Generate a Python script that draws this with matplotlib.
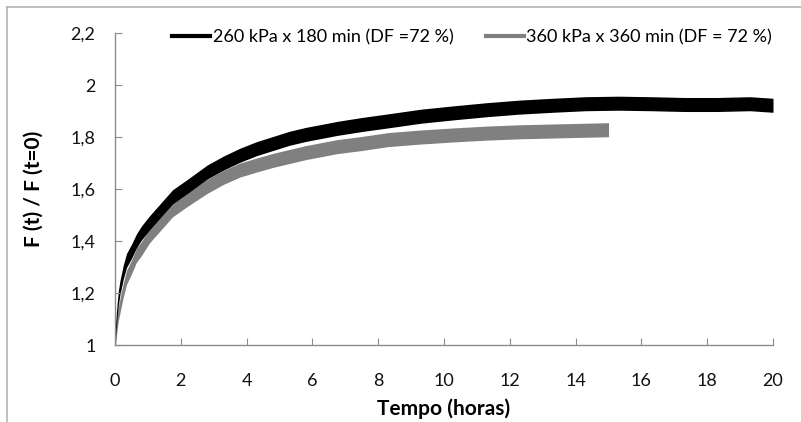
from matplotlib import pyplot as plt
from matplotlib.lines import Line2D
import numpy as np

plt.rcParams['font.family'] = ['Lato', 'DejaVu Sans']

# 260 kPa x 180 min (DF = 72 %)
t_260 = [0, 0.02, 0.05, 0.1, 0.15, 0.25, 0.35, 0.5, 0.65, 0.8, 1.05, 1.4, 1.75, 2.2,
         2.8, 3.3, 3.8, 4.3, 4.8, 5.3, 5.8, 6.3, 6.75, 7.5, 8.3, 9.3, 10.3, 11.3, 12.3,
         13.3, 14.3, 15.3, 16.3, 17.3, 18.3, 19.3, 20]
f_260 = [1.0, 1.06, 1.11, 1.18, 1.22, 1.28, 1.325, 1.36, 1.40, 1.43, 1.47, 1.52, 1.57,
         1.61, 1.665, 1.70, 1.73, 1.755, 1.775, 1.795, 1.81, 1.822, 1.833, 1.848, 1.862,
         1.880, 1.893, 1.905, 1.915, 1.922, 1.928, 1.93, 1.928, 1.925, 1.925, 1.928, 1.922]

# 360 kPa x 360 min (DF = 72 %)
t_360 = [0, 0.02, 0.05, 0.1, 0.15, 0.25, 0.35, 0.5, 0.65, 0.8, 1.05, 1.4, 1.75, 2.2,
         2.8, 3.3, 3.8, 4.3, 4.8, 5.3, 5.8, 6.3, 6.75, 7.5, 8.3, 9.3, 10.3, 11.3, 12.3,
         13.3, 14.3, 15]
f_360 = [1.0, 1.03, 1.07, 1.12, 1.15, 1.21, 1.26, 1.30, 1.345, 1.37, 1.42, 1.47, 1.52,
         1.56, 1.61, 1.645, 1.673, 1.692, 1.71, 1.725, 1.74, 1.752, 1.763, 1.775, 1.79,
         1.80, 1.808, 1.815, 1.82, 1.823, 1.826, 1.828]

labels = ["260 kPa x 180 min (DF =72 %)", "360 kPa x 360 min (DF = 72 %)"]
colors = ["black", "#808080"]

x_ticks = np.arange(0, 21, 2)
y_ticks = [1, 1.2, 1.4, 1.6, 1.8, 2, 2.2]
y_ticklabels = ["1", "1,2", "1,4", "1,6", "1,8", "2", "2,2"]

band = 0.027  # half thickness of the noisy trace

fig = plt.figure(figsize=(8.01, 4.22), dpi=100)
ax = fig.add_axes([115 / 801, 1 - 345 / 422, 658 / 801, 312 / 422])

for t, f, c in [(t_360, f_360, colors[1]), (t_260, f_260, colors[0])]:
    t = np.array(t)
    f = np.array(f)
    ax.fill_between(t, f - band, f + band, color=c, linewidth=0)

ax.set_xlim(0, 20)
ax.set_ylim(1, 2.2)
ax.set_xticks(x_ticks)
ax.set_yticks(y_ticks)
ax.set_yticklabels(y_ticklabels)

for s in ["top", "right"]:
    ax.spines[s].set_visible(False)
for s in ["left", "bottom"]:
    ax.spines[s].set_color("#8c8c8c")
    ax.spines[s].set_linewidth(1)

ax.tick_params(axis="x", direction="in", length=5, color="#8c8c8c", pad=20,
               labelsize=13, labelcolor="#111111")
ax.tick_params(axis="y", direction="in", length=5, color="#8c8c8c", pad=14,
               labelsize=13, labelcolor="#111111")

ax.set_xlabel("Tempo (horas)", fontsize=15, fontweight="bold")
ax.xaxis.set_label_coords(0.5, -0.17)
ax.set_ylabel("F (t) / F (t=0)", fontsize=15, fontweight="bold")
ax.yaxis.set_label_coords(-0.108, 0.5)

handles = [Line2D([], [], color=c, linewidth=3) for c in colors]
leg = ax.legend(handles, labels, ncol=2, frameon=False, fontsize=13,
                loc="center left", bbox_to_anchor=(57 / 658, 1 - 4 / 312),
                handlelength=2.1, handletextpad=0.15, columnspacing=1.8,
                borderaxespad=0, borderpad=0)

# frame around the picture (top and left edges visible)
fig.add_artist(Line2D([7 / 801, 7 / 801], [0, 1 - 7 / 422], color="#b4b4b4", linewidth=1.2))
fig.add_artist(Line2D([7 / 801, 1], [1 - 7 / 422, 1 - 7 / 422], color="#b4b4b4", linewidth=1.2))

fig.savefig("out.png", dpi=100)
